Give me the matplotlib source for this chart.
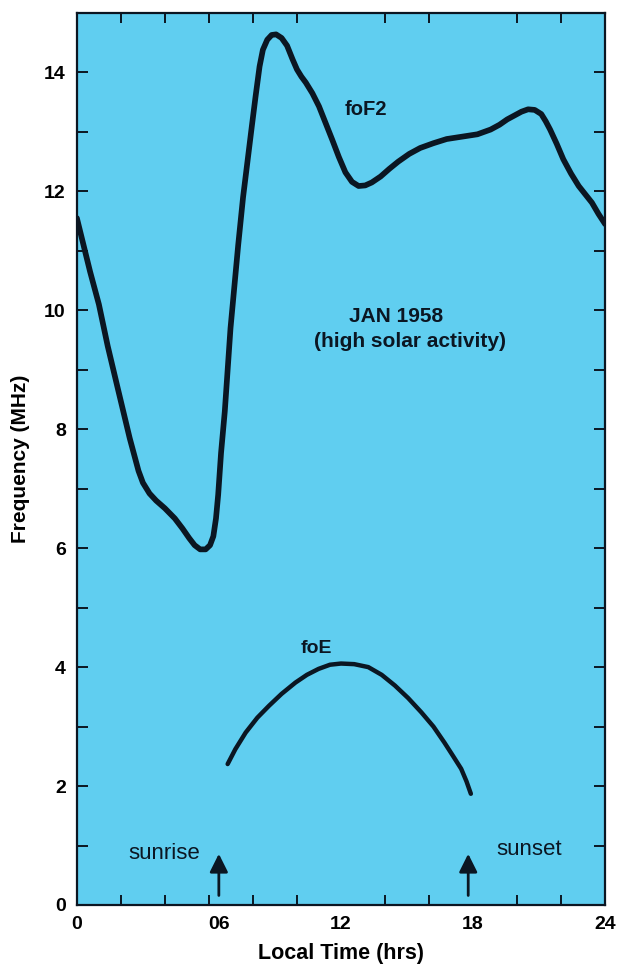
import matplotlib
matplotlib.use("Agg")
import matplotlib.pyplot as plt

plt.rcParams['font.family'] = ['Liberation Sans', 'DejaVu Sans']

# foF2 curve (local time in hours, frequency in MHz)
fof2_hours = [0, 0.3, 0.6, 1.0, 1.4, 1.85, 2.4, 2.8, 3.0, 3.3, 3.6, 4.0,
              4.45, 4.8, 5.1, 5.35, 5.6, 5.85, 6.05, 6.2, 6.32, 6.42, 6.55,
              6.72, 6.98, 7.33, 7.55, 7.75, 7.95, 8.12, 8.3, 8.45, 8.65,
              8.85, 9.05, 9.3, 9.55, 9.8, 10.0, 10.2, 10.4, 10.7, 11.0,
              11.3, 11.6, 11.9, 12.2, 12.5, 12.8, 13.1, 13.4, 13.8, 14.2,
              14.6, 15.1, 15.6, 16.2, 16.8, 17.5, 18.2, 18.8, 19.2, 19.55,
              19.9, 20.2, 20.5, 20.8, 21.1, 21.3, 21.5, 21.8, 22.1, 22.45,
              22.8, 23.1, 23.4, 23.7, 24.0]
fof2_mhz = [11.55, 11.1, 10.65, 10.1, 9.4, 8.7, 7.85, 7.3, 7.1, 6.92, 6.8, 6.67,
            6.5, 6.33, 6.17, 6.05, 5.98, 5.98, 6.05, 6.2, 6.5, 6.9, 7.6,
            8.3, 9.7, 11.1, 11.9, 12.5, 13.1, 13.6, 14.1, 14.38, 14.55,
            14.63, 14.64, 14.58, 14.45, 14.22, 14.05, 13.93, 13.83, 13.65, 13.43,
            13.15, 12.87, 12.58, 12.32, 12.16, 12.09, 12.1, 12.15, 12.25, 12.38,
            12.5, 12.63, 12.73, 12.81, 12.88, 12.92, 12.96, 13.04, 13.12, 13.21,
            13.28, 13.34, 13.38, 13.37, 13.3, 13.18, 13.04, 12.8, 12.54, 12.3,
            12.09, 11.95, 11.81, 11.62, 11.45]

# foE curve
foe_hours = [6.85, 7.2, 7.67, 8.2, 8.73, 9.3, 9.93, 10.45, 10.98, 11.5, 12.0,
             12.6, 13.24, 13.85, 14.45, 15.05, 15.65, 16.2, 16.7, 17.1, 17.46,
             17.7, 17.9]
foe_mhz = [2.37, 2.62, 2.9, 3.15, 3.35, 3.55, 3.74, 3.87, 3.97, 4.04, 4.06,
           4.05, 4.0, 3.87, 3.69, 3.48, 3.24, 3.0, 2.73, 2.5, 2.29,
           2.08, 1.87]

x_label_pos = [0, 6.45, 12, 18, 24]
x_labels = ["0", "06", "12", "18", "24"]
y_label_vals = [0, 2, 4, 6, 8, 10, 12, 14]

sunrise_hr = 6.45
sunset_hr = 17.78

BG = '#60cef0'
INK = '#0b1622'

fig = plt.figure(figsize=(6.2, 9.68), dpi=100)
fig.patch.set_facecolor('white')
ax = fig.add_axes([0.124, 0.0651, 0.852, 0.9215])
ax.set_facecolor(BG)

ax.plot(fof2_hours, fof2_mhz, color=INK, lw=4.1, solid_joinstyle='round',
        solid_capstyle='round')
ax.plot(foe_hours, foe_mhz, color=INK, lw=3.2, solid_joinstyle='round',
        solid_capstyle='round')

ax.set_xlim(0, 24)
ax.set_ylim(0, 15)

# ticks: visible minor ticks every 2 h / 1 MHz, labels on major
ax.set_xticks(range(0, 25, 2), minor=True)
ax.set_xticks(x_label_pos)
ax.set_xticklabels(x_labels)
ax.set_yticks(range(0, 16), minor=True)
ax.set_yticks(y_label_vals)
ax.set_yticklabels([str(v) for v in y_label_vals])

ax.tick_params(axis='x', which='major', length=0, pad=8,
               labelsize=14)
ax.tick_params(axis='x', which='minor', direction='in', length=7, width=1.4,
               top=True, bottom=True, color=INK)
ax.tick_params(axis='y', which='both', direction='in', length=8, width=1.4,
               left=True, right=True, color=INK)
ax.tick_params(axis='y', which='major', pad=8, labelsize=14)
for lab in ax.get_xticklabels() + ax.get_yticklabels():
    lab.set_fontweight('bold')

for s in ax.spines.values():
    s.set_linewidth(1.6)
    s.set_color(INK)

ax.set_xlabel("Local Time (hrs)", fontsize=15.5, fontweight='bold', labelpad=7)
ax.set_ylabel("Frequency (MHz)", fontsize=15, fontweight='bold', labelpad=10)

ax.text(13.15, 13.38, "foF2", fontsize=14.5, fontweight='bold',
        ha='center', va='center', color=INK)
ax.text(10.9, 4.31, "foE", fontsize=14, fontweight='bold',
        ha='center', va='center', color=INK)
ax.text(14.5, 9.89, "JAN 1958", fontsize=15, fontweight='bold',
        ha='center', va='center', color=INK)
ax.text(15.15, 9.47, "(high solar activity)", fontsize=15, fontweight='bold',
        ha='center', va='center', color=INK)
ax.text(3.95, 0.87, "sunrise", fontsize=16, ha='center', va='center', color=INK)
ax.text(20.55, 0.93, "sunset", fontsize=16, ha='center', va='center', color=INK)

for hr in (sunrise_hr, sunset_hr):
    ax.annotate("", xy=(hr, 0.86), xytext=(hr, 0.16),
                arrowprops=dict(arrowstyle='-|>,head_length=1.1,head_width=0.55',
                                color=INK, lw=2.0, shrinkA=0, shrinkB=0))

fig.savefig("out.png", dpi=100, facecolor='white')
